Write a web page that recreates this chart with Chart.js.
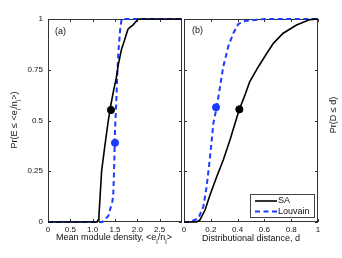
<!DOCTYPE html>
<html>
<head>
<meta charset="utf-8">
<script src="https://cdn.jsdelivr.net/npm/chart.js@4.4.0/dist/chart.umd.min.js"></script>
<style>
  body { margin: 0; background: #fff; }
  #wrap { position: relative; width: 342px; height: 258px; }
  canvas { position: absolute; left: 0; top: 0; }
</style>
</head>
<body>
<div id="wrap">
  <canvas id="chartA" width="342" height="258"></canvas>
  <canvas id="chartB" width="342" height="258"></canvas>
</div>
<script>
// panel (a): mean module density
var densSA_x = [0, 1.10, 1.12, 1.14, 1.20, 1.27, 1.35, 1.41, 1.47, 1.53, 1.57, 1.645, 1.72, 1.79, 1.84, 1.90, 2.02, 3];
var densSA_y = [0, 0, 0.01, 0.03, 0.25, 0.37, 0.50, 0.58, 0.65, 0.71, 0.77, 0.85, 0.90, 0.95, 0.96, 0.97, 1.0, 1.0];
var densLv_x = [0, 1.22, 1.35, 1.44, 1.46, 1.48, 1.50, 1.51, 1.53, 1.55, 1.58, 1.62, 1.65, 3];
var densLv_y = [0, 0, 0.03, 0.10, 0.13, 0.26, 0.45, 0.50, 0.60, 0.72, 0.85, 0.96, 1.0, 1.0];
var densDots = { SA: [1.41, 0.552], Louvain: [1.50, 0.39] };

// panel (b): distributional distance
var distSA_x = [0, 0.095, 0.119, 0.157, 0.194, 0.244, 0.293, 0.343, 0.381, 0.413, 0.455, 0.49, 0.555, 0.617, 0.667, 0.74, 0.84, 0.94, 1];
var distSA_y = [0, 0, 0.01, 0.059, 0.133, 0.223, 0.305, 0.404, 0.486, 0.555, 0.626, 0.69, 0.765, 0.83, 0.88, 0.93, 0.97, 0.997, 1];
var distLv_x = [0, 0.045, 0.107, 0.144, 0.169, 0.189, 0.207, 0.219, 0.244, 0.269, 0.293, 0.33, 0.368, 0.405, 0.455, 0.6, 1];
var distLv_y = [0, 0, 0.018, 0.075, 0.174, 0.289, 0.404, 0.486, 0.565, 0.667, 0.765, 0.864, 0.93, 0.975, 0.99, 1, 1];
var distDots = { SA: [0.413, 0.555], Louvain: [0.239, 0.565] };

var ticksA = [0, 0.5, 1.0, 1.5, 2.0, 2.5];
var ticksB = [0, 0.2, 0.4, 0.6, 0.8, 1];
var ticksY = [0, 0.25, 0.5, 0.75, 1];

var BLACK = "#000";
var BLUE = "rgb(25, 60, 255)";
var FONT = "Liberation Sans, Arial, sans-serif";

function pts(xs, ys) {
  return xs.map(function (x, i) { return { x: x, y: ys[i] }; });
}

function datasets(sx, sy, lx, ly, dots) {
  return [
    { data: pts(sx, sy), borderColor: BLACK, borderWidth: 1.6, pointRadius: 0, showLine: true, tension: 0, clip: 3 },
    { data: pts(lx, ly), borderColor: BLUE, borderWidth: 2, borderDash: [5, 3.5], pointRadius: 0, showLine: true, tension: 0, clip: 3 },
    { data: [{ x: dots.SA[0], y: dots.SA[1] }], pointRadius: 3.6, backgroundColor: BLACK, borderColor: BLACK, showLine: false },
    { data: [{ x: dots.Louvain[0], y: dots.Louvain[1] }], pointRadius: 3.6, backgroundColor: BLUE, borderColor: BLUE, showLine: false },
  ];
}

// box and inward tick marks
var framePlugin = {
  id: "frame",
  beforeDatasetsDraw: function (chart) {
    var c = chart.ctx, a = chart.chartArea;
    var xs = chart.scales.x, ys = chart.scales.y;
    c.save();
    c.strokeStyle = "#333";
    c.lineWidth = 1;
    c.strokeRect(a.left + 0.5, a.top + 0.5, a.right - a.left - 1, a.bottom - a.top - 1);
    c.beginPath();
    chart.options.xTicks.forEach(function (v) {
      var px = Math.round(xs.getPixelForValue(v)) + 0.5;
      c.moveTo(px, a.bottom); c.lineTo(px, a.bottom - 3);
      c.moveTo(px, a.top); c.lineTo(px, a.top + 3);
    });
    ticksY.forEach(function (v) {
      var py = Math.round(ys.getPixelForValue(v)) + 0.5;
      c.moveTo(a.left, py); c.lineTo(a.left + 3, py);
      c.moveTo(a.right, py); c.lineTo(a.right - 3, py);
    });
    c.stroke();
    c.restore();
  },
};

// text with subscripts, centred on (x, y)
function drawRich(c, parts, x, y, rot) {
  c.save();
  c.translate(x, y);
  c.rotate(rot || 0);
  c.fillStyle = "#111";
  c.textBaseline = "middle";
  var w = 0;
  parts.forEach(function (p) {
    c.font = (p.sub ? "6.5px " : "9px ") + FONT;
    w += c.measureText(p.t).width;
  });
  var cx = -w / 2;
  parts.forEach(function (p) {
    c.font = (p.sub ? "6.5px " : "9px ") + FONT;
    c.fillText(p.t, cx, p.sub ? 4 : 0);
    cx += c.measureText(p.t).width;
  });
  c.restore();
}

var labelsPlugin = {
  id: "labels",
  afterDraw: function (chart) {
    var c = chart.ctx;
    var o = chart.options;
    c.save();
    c.fillStyle = "#111";
    c.font = "9px " + FONT;
    c.textBaseline = "middle";
    c.fillText(o.panel, o.panelPos[0], o.panelPos[1]);
    c.restore();
    drawRich(c, o.xTitle, o.xTitlePos[0], o.xTitlePos[1], 0);
    drawRich(c, o.yTitle, o.yTitlePos[0], o.yTitlePos[1], -Math.PI / 2);
    if (o.legendBox) {
      var b = o.legendBox;
      c.save();
      c.fillStyle = "#fff";
      c.fillRect(b[0], b[1], b[2], b[3]);
      c.strokeStyle = "#444";
      c.lineWidth = 1;
      c.strokeRect(b[0] + 0.5, b[1] + 0.5, b[2], b[3]);
      c.lineWidth = 1.6;
      c.strokeStyle = BLACK;
      c.beginPath(); c.moveTo(b[0] + 5, b[1] + 7); c.lineTo(b[0] + 27, b[1] + 7); c.stroke();
      c.lineWidth = 2;
      c.strokeStyle = BLUE;
      c.setLineDash([5, 3.5]);
      c.beginPath(); c.moveTo(b[0] + 5, b[1] + 17.5); c.lineTo(b[0] + 27, b[1] + 17.5); c.stroke();
      c.setLineDash([]);
      c.fillStyle = "#111";
      c.font = "9px " + FONT;
      c.textBaseline = "middle";
      c.fillText("SA", b[0] + 28, b[1] + 7);
      c.fillText("Louvain", b[0] + 28, b[1] + 17.5);
      c.restore();
    }
  },
};

function makeChart(id, cfg) {
  return new Chart(document.getElementById(id), {
    type: "scatter",
    data: { datasets: cfg.datasets },
    options: Object.assign({
      responsive: false,
      animation: false,
      layout: { padding: cfg.padding },
      plugins: { legend: { display: false }, tooltip: { enabled: false } },
      scales: {
        x: {
          type: "linear", min: 0, max: cfg.xMax,
          afterBuildTicks: function (s) { s.ticks = cfg.xTicks.map(function (v) { return { value: v }; }); },
          afterFit: function (s) { s.height = 36; },
          grid: { display: false, drawTicks: false },
          border: { display: false },
          ticks: {
            padding: 3, color: "#111", font: { family: FONT, size: 8 },
            callback: cfg.xFormat,
          },
        },
        y: {
          type: "linear", min: 0, max: 1, display: cfg.yLabels ? true : false,
          afterBuildTicks: function (s) { s.ticks = ticksY.map(function (v) { return { value: v }; }); },
          afterFit: function (s) { s.width = cfg.yLabels ? 48 : 0; },
          grid: { display: false, drawTicks: false },
          border: { display: false },
          ticks: { padding: 5, color: "#111", font: { family: FONT, size: 8 }, callback: function (v) { return String(v); } },
        },
      },
    }, cfg.extra),
    plugins: [framePlugin, labelsPlugin],
  });
}

makeChart("chartA", {
  datasets: datasets(densSA_x, densSA_y, densLv_x, densLv_y, densDots),
  padding: { left: 0, right: 160, top: 19, bottom: 0 },
  xMax: 3,
  xTicks: ticksA,
  xFormat: function (v) { return v === 0 ? "0" : v.toFixed(1); },
  yLabels: true,
  extra: {
    xTicks: ticksA,
    panel: "(a)", panelPos: [55, 32],
    xTitle: [{ t: "Mean module density, <e" }, { t: "i", sub: true }, { t: "/n" }, { t: "i", sub: true }, { t: ">" }],
    xTitlePos: [114, 238],
    yTitle: [{ t: "Pr(E \u2264 <e" }, { t: "i", sub: true }, { t: "/n" }, { t: "i", sub: true }, { t: ">)" }],
    yTitlePos: [15, 120],
  },
});

makeChart("chartB", {
  datasets: datasets(distSA_x, distSA_y, distLv_x, distLv_y, distDots),
  padding: { left: 184, right: 24, top: 19, bottom: 0 },
  xMax: 1,
  xTicks: ticksB,
  xFormat: function (v) { return v === 0 || v === 1 ? String(v) : v.toFixed(1); },
  yLabels: false,
  extra: {
    xTicks: ticksB,
    panel: "(b)", panelPos: [192, 31],
    xTitle: [{ t: "Distributional distance, d" }],
    xTitlePos: [251, 239],
    yTitle: [{ t: "Pr(D \u2264 d)" }],
    yTitlePos: [334, 115],
    legendBox: [250, 194, 64, 23],
  },
});
</script>
</body>
</html>
